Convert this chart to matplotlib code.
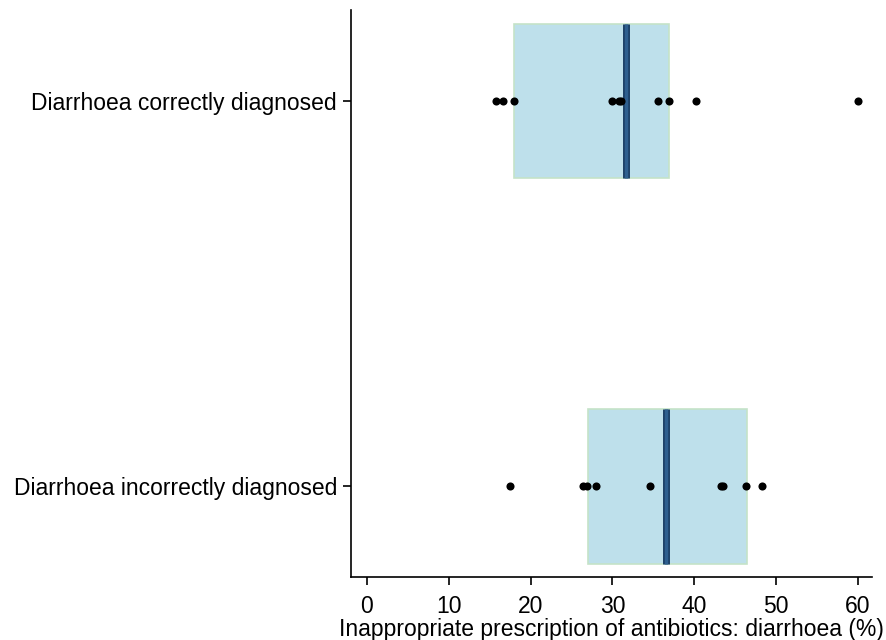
import numpy as np
import matplotlib
matplotlib.use('Agg')
from matplotlib import pyplot as plt

# Data
groups = ["Diarrhoea incorrectly diagnosed", "Diarrhoea correctly diagnosed"]
incorrect_pts = [17.5, 26.4, 26.9, 28.0, 34.6, 43.2, 43.5, 46.3, 48.3]
correct_pts = [15.8, 16.6, 18.0, 30.0, 30.8, 31.1, 35.6, 36.9, 40.2, 60.0]
q1 = [27.0, 18.0]
median = [36.5, 31.7]
q3 = [46.4, 36.9]
xticks = [0, 10, 20, 30, 40, 50, 60]

plt.rcParams['font.family'] = ['Liberation Sans', 'DejaVu Sans']

fig = plt.figure(figsize=(8.87, 6.4), dpi=100)
ax = fig.add_axes([0.3957, 0.0984, 0.5873, 0.8856])

box_h = 0.4
for i, pts in enumerate([incorrect_pts, correct_pts]):
    ax.add_patch(plt.Rectangle((q1[i], i - box_h / 2), q3[i] - q1[i], box_h,
                               facecolor='#bee0eb', edgecolor='#c5e3c8', lw=1.2, zorder=1))
    ax.plot([median[i], median[i]], [i - box_h / 2, i + box_h / 2],
            color='#1b3f66', lw=5, solid_capstyle='butt', zorder=2)
    ax.plot([median[i], median[i]], [i - box_h / 2, i + box_h / 2],
            color='#2e5f8f', lw=2.5, solid_capstyle='butt', zorder=3)
    ax.scatter(pts, [i] * len(pts), s=34, color='black', zorder=4, linewidths=0)

ax.set_xlim(-1.95, 61.7)
ax.set_ylim(-0.235, 1.235)
ax.set_yticks([0, 1])
ax.set_yticklabels(groups)
ax.set_xticks(xticks)
ax.set_xlabel("Inappropriate prescription of antibiotics: diarrhoea (%)", fontsize=16.5, labelpad=0)
ax.tick_params(axis='both', labelsize=16.5, length=6, width=1.2)
ax.tick_params(axis='x', pad=7)
ax.tick_params(axis='y', pad=4)
for s in ['top', 'right']:
    ax.spines[s].set_visible(False)
for s in ['left', 'bottom']:
    ax.spines[s].set_linewidth(1.2)

fig.savefig("out.png", dpi=100)
